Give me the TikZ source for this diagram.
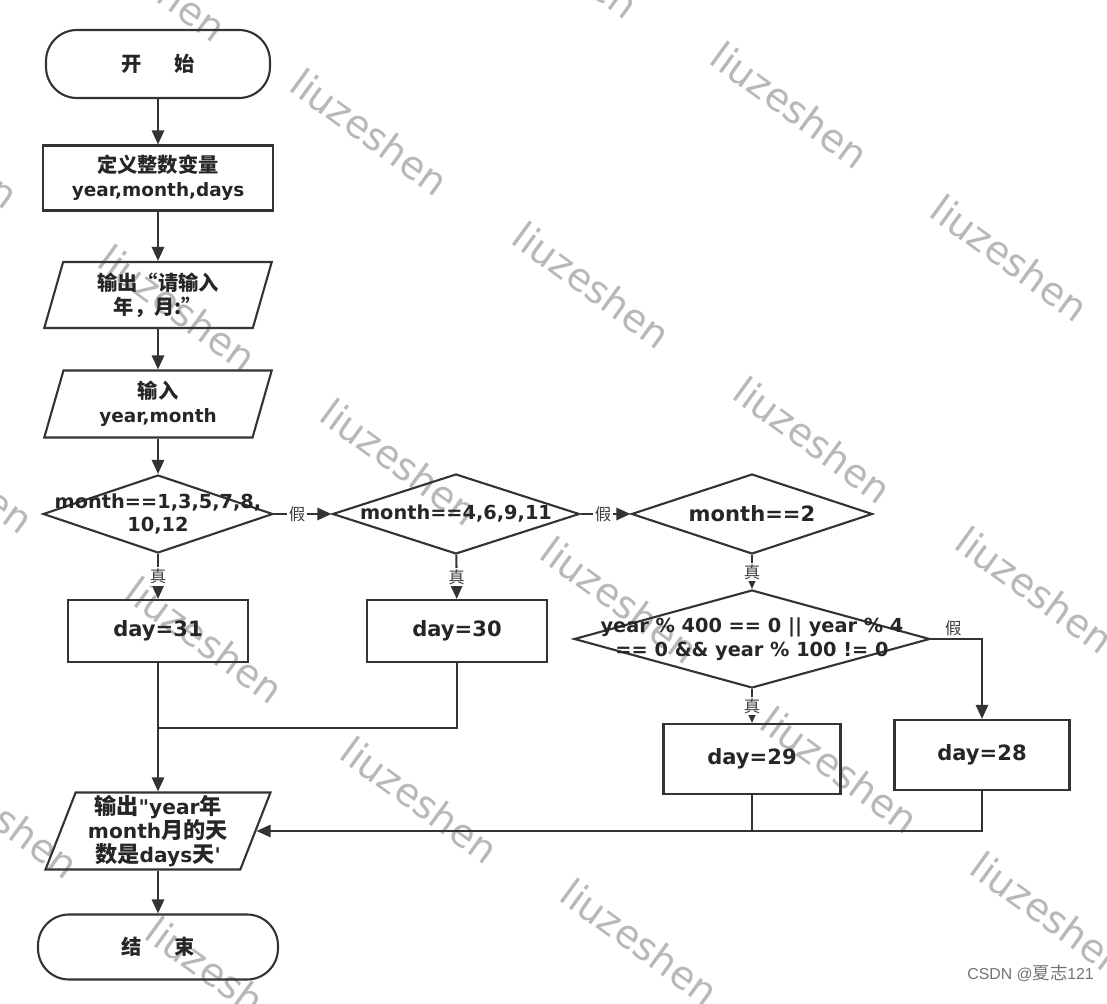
\documentclass[tikz,border=0pt]{standalone}
\usepackage{fontspec}
\setmainfont{DejaVu Sans}
\newfontfamily\cjk{Noto Sans CJK SC}[Scale=1.1]
\newfontfamily\thin{Liberation Sans}
\newcommand{\zh}[1]{{\cjk #1}}
\usetikzlibrary{arrows.meta, shapes.geometric}

\begin{document}
\begin{tikzpicture}[x=0.02cm, y=-0.02cm,
    line/.style={draw=black!80, line width=1.2pt},
    arr/.style={line, -{Triangle[length=8pt, width=7pt]}},
    flow/.style={draw=black!80, line width=1.2pt, text=black!85, align=center,
        inner sep=0pt, font=\bfseries\fontsize{10.5}{13.5}\selectfont},
    term/.style={flow, rounded corners=0.62cm},
    proc/.style={flow, minimum width=4.6cm, minimum height=1.3cm},
    io/.style={flow, trapezium, trapezium left angle=67, trapezium right angle=113,
        trapezium stretches body, minimum width=4.55cm, minimum height=1.32cm},
    dec/.style={flow, diamond, inner sep=0pt},
    dtext/.style={text=black!85, align=center, inner sep=0pt,
        font=\bfseries\fontsize{11}{13.5}\selectfont},
    day/.style={flow, minimum width=3.6cm, minimum height=1.24cm,
        font=\bfseries\fontsize{12}{14}\selectfont},
    tag/.style={fill=white, inner sep=1pt, text=black!75, font=\fontsize{8.5}{9}\selectfont},
    wmark/.style={text=black!28, rotate=-36, font=\fontsize{22}{24}\selectfont}
]
    % ================= Canvas =================
    \useasboundingbox (0,0) rectangle (1107,1004);

    % ================= Watermark =================
    \begin{scope}
        \clip (0,0) rectangle (1107,1004);
        \foreach \wx/\wy [count=\i] in {148/-22, 560/-45, 370/132, 790/105, 1010/258,
            592/285, 178/308, 813/440, 400/462, -45/470, 1035/590, 620/600, 205/640,
            420/800, 840/770, 0/815, 1050/915, 640/942, 225/980, -60/145}
            \node[wmark] (wm\i) at (\wx,\wy) {liuzeshen};
    \end{scope}

    % ================= Left column =================
    \node[term, minimum width=4.48cm, minimum height=1.36cm] (start) at (158,64) {\zh{开\hspace{1.6em}始}};
    \node[proc] (def) at (158,178) {\zh{定义整数变量}\\year,month,days};
    \node[io] (ask) at (158,295) {\zh{输出“请输入}\\\zh{年，月:”}};
    \node[io, minimum height=1.34cm] (read) at (158,404) {\zh{输入}\\year,month};

    % ================= Decisions =================
    \node[dec, minimum width=4.6cm, minimum height=1.56cm] (c1) at (158,514) {};
    \node[dtext] (c1t) at (c1) {month==1,3,5,7,8,\\10,12};
    \node[dec, minimum width=4.94cm, minimum height=1.6cm] (c2) at (456,514) {};
    \node[dtext] (c2t) at (c2) {month==4,6,9,11};
    \node[dec, minimum width=4.82cm, minimum height=1.6cm] (c3) at (752,514) {};
    \node[dtext, font=\bfseries\fontsize{12}{14}\selectfont] (c3t) at (c3) {month==2};
    \node[dec, minimum width=7.12cm, minimum height=1.96cm] (c4) at (752,639) {};
    \node[dtext] (c4t) at (c4) {year \% 400 == 0 || year \% 4\\== 0 \&\& year \% 100 != 0};

    % ================= Day boxes =================
    \node[day] (d31) at (158,631) {day=31};
    \node[day] (d30) at (457,631) {day=30};
    \node[day, minimum width=3.54cm, minimum height=1.4cm] (d29) at (752,759) {day=29};
    \node[day, minimum width=3.5cm, minimum height=1.4cm] (d28) at (982,755) {day=28};

    % ================= Output and end =================
    \node[io, minimum width=4.5cm, minimum height=1.54cm,
        font=\bfseries\fontsize{11.5}{13.5}\selectfont] (show) at (158,831)
        {\zh{输出}\textquotedbl year\zh{年}\\month\zh{月的天}\\\zh{数是}days\zh{天}\textquotesingle};
    \node[term, minimum width=4.8cm, minimum height=1.3cm] (stop) at (158,947) {\zh{结\hspace{1.6em}束}};

    % ================= Connectors =================
    \draw[arr] (start) -- (def);
    \draw[arr] (def.south) -- (def.south |- ask.north);
    \draw[arr] (ask.south) -- (ask.south |- read.north);
    \draw[arr] (read.south) -- (read.south |- c1.north);
    \draw[arr] (c1) -- node[tag, pos=0.4] {\zh{假}} (c2);
    \draw[arr] (c2) -- node[tag, pos=0.45] {\zh{假}} (c3);
    \draw[arr] (c1) -- node[tag] {\zh{真}} (d31);
    \draw[arr] (c2) -- node[tag] {\zh{真}} (d30);
    \draw[arr] (c3) -- node[tag] {\zh{真}} (c4);
    \draw[arr] (c4) -- node[tag] {\zh{真}} (d29);
    \draw[arr] (c4.east) -| node[tag, pos=0.22, above, fill=none] {\zh{假}} (d28.north);

    % merge into the output
    \coordinate (m1) at (158,728);
    \draw[line] (d30.south) |- (m1);
    \draw[arr] (d31.south) -- (d31.south |- show.north);
    \draw[line] (d29.south) -- (d29.south |- show.east);
    \draw[arr] (d28.south) |- (show.east);
    \draw[arr] (show.south) -- (show.south |- stop.north);

    % ================= Credit =================
    \node[anchor=east, text=black!55, font=\thin\fontsize{9}{10}\selectfont] (credit) at (1100,973) {CSDN @\zh{夏志}121};
\end{tikzpicture}
\end{document}
